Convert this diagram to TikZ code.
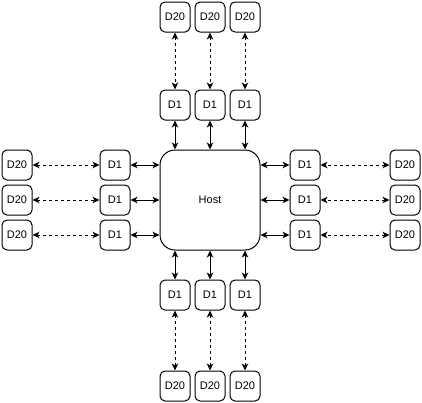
\documentclass[tikz,border=0pt]{standalone}
\usepackage{fontspec}
\setmainfont{Liberation Sans}
\usetikzlibrary{arrows.meta,positioning}

\begin{document}
\begin{tikzpicture}[x=1pt,y=-1pt,
  dev/.style={draw,line width=1pt,rounded corners=5pt,minimum size=30pt,inner sep=0pt,font=\fontsize{11}{13}\selectfont},
  hostbox/.style={draw,line width=1pt,rounded corners=15pt,minimum size=100pt,font=\fontsize{11}{13}\selectfont},
  link/.style={line width=1pt,{Stealth[length=7pt,width=6.5pt,inset=2pt]}-{Stealth[length=7pt,width=6.5pt,inset=2pt]}},
  far/.style={link,dash pattern=on 3pt off 3pt}]
\useasboundingbox (0,0) rectangle (422,402);
\node[hostbox] (host) at (210,200) {Host};
% top
\node[dev] (t1) at (175,105) {D1};
\node[dev] (t2) at (210,105) {D1};
\node[dev] (t3) at (245,105) {D1};
\node[dev] (tt1) at (175,17) {D20};
\node[dev] (tt2) at (210,17) {D20};
\node[dev] (tt3) at (245,17) {D20};
% bottom
\node[dev] (b1) at (175,295) {D1};
\node[dev] (b2) at (210,295) {D1};
\node[dev] (b3) at (245,295) {D1};
\node[dev] (bb1) at (175,386) {D20};
\node[dev] (bb2) at (210,386) {D20};
\node[dev] (bb3) at (245,386) {D20};
% left
\node[dev] (l1) at (115,165) {D1};
\node[dev] (l2) at (115,200) {D1};
\node[dev] (l3) at (115,235) {D1};
\node[dev] (ll1) at (17,165) {D20};
\node[dev] (ll2) at (17,200) {D20};
\node[dev] (ll3) at (17,235) {D20};
% right
\node[dev] (r1) at (305,165) {D1};
\node[dev] (r2) at (305,200) {D1};
\node[dev] (r3) at (305,235) {D1};
\node[dev] (rr1) at (405,165) {D20};
\node[dev] (rr2) at (405,200) {D20};
\node[dev] (rr3) at (405,235) {D20};
% host links
\draw[link] (t1) -- (t1 |- host.north);
\draw[link] (t2) -- (t2 |- host.north);
\draw[link] (t3) -- (t3 |- host.north);
\draw[link] (b1) -- (b1 |- host.south);
\draw[link] (b2) -- (b2 |- host.south);
\draw[link] (b3) -- (b3 |- host.south);
\draw[link] (l1) -- (l1 -| host.west);
\draw[link] (l2) -- (l2 -| host.west);
\draw[link] (l3) -- (l3 -| host.west);
\draw[link] (r1) -- (r1 -| host.east);
\draw[link] (r2) -- (r2 -| host.east);
\draw[link] (r3) -- (r3 -| host.east);
% far links
\draw[far] (tt1) -- (t1);
\draw[far] (tt2) -- (t2);
\draw[far] (tt3) -- (t3);
\draw[far] (bb1) -- (b1);
\draw[far] (bb2) -- (b2);
\draw[far] (bb3) -- (b3);
\draw[far] (ll1) -- (l1);
\draw[far] (ll2) -- (l2);
\draw[far] (ll3) -- (l3);
\draw[far] (rr1) -- (r1);
\draw[far] (rr2) -- (r2);
\draw[far] (rr3) -- (r3);
\end{tikzpicture}
\end{document}
